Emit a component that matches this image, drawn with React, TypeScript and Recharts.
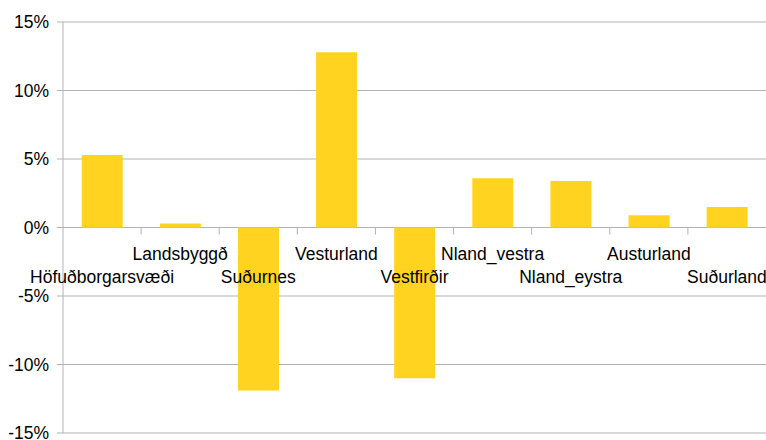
import { BarChart, Bar, XAxis, YAxis, CartesianGrid } from 'recharts';

const regions = [
  'Höfuðborgarsvæði',
  'Landsbyggð',
  'Suðurnes',
  'Vesturland',
  'Vestfirðir',
  'Nland_vestra',
  'Nland_eystra',
  'Austurland',
  'Suðurland',
];
const change = [5.3, 0.3, -11.9, 12.8, -11.0, 3.6, 3.4, 0.9, 1.5];
const yTicks = [-15, -10, -5, 0, 5, 10, 15];

const data = regions.map((name, i) => ({ name, value: change[i] }));

const W = 766;
const H = 440;
const TOP = 22;
const BOTTOM = 7;
const LEFT = 63;
const PLOT_H = H - TOP - BOTTOM;
const PLOT_W = W - LEFT;
const ZERO_Y = TOP + PLOT_H * (15 / 30);
const BAND = PLOT_W / regions.length;
const FONT = '"Liberation Sans", Arial, sans-serif';

function CategoryTick(props: any) {
  const { x, index, payload } = props;
  const lower = index % 2 === 0;
  const edge = x - BAND / 2;
  return (
    <g>
      {index > 0 && (
        <line x1={edge} x2={edge} y1={ZERO_Y} y2={ZERO_Y + 7} stroke="#b3b3b3" strokeWidth={1} />
      )}
      <text
        x={x}
        y={ZERO_Y + (lower ? 55 : 32)}
        textAnchor="middle"
        fill="#000"
        fontSize={17.5}
        fontFamily={FONT}
      >
        {payload.value}
      </text>
    </g>
  );
}

export default function App() {
  return (
    <div style={{ position: 'absolute', left: 0, top: 0, width: W, height: H, background: '#fff' }}>
      <BarChart
        width={W}
        height={H}
        data={data}
        margin={{ top: TOP, right: 0, bottom: 0, left: 0 }}
        barCategoryGap="24%"
      >
        <CartesianGrid vertical={false} stroke="#b3b3b3" />
        <XAxis
          dataKey="name"
          height={BOTTOM}
          interval={0}
          axisLine={false}
          tickLine={false}
          tick={<CategoryTick />}
        />
        <YAxis
          width={LEFT}
          domain={[-15, 15]}
          ticks={yTicks}
          interval={0}
          tickFormatter={(v) => `${v}%`}
          stroke="#b3b3b3"
          tickSize={6}
          tickMargin={8}
          tick={{ fill: '#000', fontSize: 17.5, fontFamily: FONT }}
        />
        <Bar dataKey="value" fill="#ffd320" isAnimationActive={false} />
      </BarChart>
    </div>
  );
}
